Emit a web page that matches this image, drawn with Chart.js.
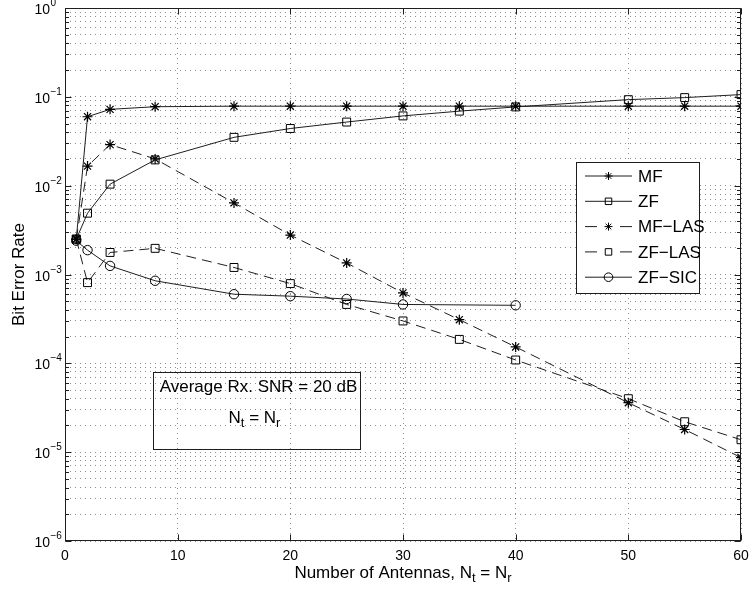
<!DOCTYPE html>
<html>
<head>
<meta charset="utf-8">
<script src="https://cdn.jsdelivr.net/npm/chart.js@4.4.0/dist/chart.umd.min.js"></script>
<style>
  html, body { margin: 0; padding: 0; background: #ffffff; }
  canvas { display: block; }
</style>
</head>
<body>
<canvas id="ber" width="750" height="592"></canvas>
<script>
// Number of antennas (Nt = Nr) at which BER was simulated
const antennas = [1, 2, 4, 8, 15, 20, 25, 30, 35, 40, 50, 55, 60];
const antennasSIC = [1, 2, 4, 8, 15, 20, 25, 30, 40];

// Bit error rate per detector, average Rx SNR = 20 dB
const berMF     = [2.5e-3, 0.0597, 0.0723, 0.0774, 0.0785, 0.0785, 0.0785, 0.0785, 0.0785, 0.0785, 0.0785, 0.0785, 0.0785];
const berZF     = [2.5e-3, 4.9e-3, 0.0104, 0.0195, 0.035, 0.044, 0.052, 0.061, 0.069, 0.077, 0.093, 0.098, 0.106];
const berMFLAS  = [2.5e-3, 0.0166, 0.029, 0.020, 6.4e-3, 2.78e-3, 1.35e-3, 6.2e-4, 3.1e-4, 1.53e-4, 3.6e-5, 1.8e-5, 8.7e-6];
const berZFLAS  = [2.5e-3, 8.1e-4, 1.77e-3, 1.97e-3, 1.2e-3, 7.9e-4, 4.6e-4, 3.0e-4, 1.86e-4, 1.09e-4, 4.0e-5, 2.2e-5, 1.38e-5];
const berZFSIC  = [2.4e-3, 1.88e-3, 1.25e-3, 8.5e-4, 6.0e-4, 5.7e-4, 5.3e-4, 4.6e-4, 4.5e-4];

// Axis ticks
const xTickValues = [0, 10, 20, 30, 40, 50, 60];
const xTickLabels = ['0', '10', '20', '30', '40', '50', '60'];
const yTickExponents = [0, -1, -2, -3, -4, -5, -6];

const FONT = '"Liberation Sans", Arial, Helvetica, sans-serif';
const INK = '#1e1e1e';
const DASH = [10, 6];

function points(xs, ys) {
  return xs.map((x, i) => ({ x: x, y: ys[i] }));
}

// Every decade plus its 2..9 minor positions, for the dotted log grid
function logGridValues() {
  const vals = [];
  const lo = Math.min(...yTickExponents), hi = Math.max(...yTickExponents);
  for (let e = lo; e <= hi; e++) {
    for (let m = 1; m <= 9; m++) {
      if (e === hi && m > 1) break;
      vals.push(m * Math.pow(10, e));
    }
  }
  return vals;
}

function series(label, xs, ys, style, radius, dashed) {
  return {
    label: label,
    data: points(xs, ys),
    borderColor: INK,
    borderWidth: 1,
    borderDash: dashed ? DASH : [],
    pointStyle: style,
    pointRadius: radius,
    pointHoverRadius: radius,
    pointBorderColor: '#000000',
    pointBorderWidth: style === 'star' ? 1.2 : 1,
    pointBackgroundColor: 'rgba(0,0,0,0)',
    fill: false,
    tension: 0
  };
}

// Draws a label with a subscript after each main part: parts = [[text, sub], ...]
function drawSubText(ctx, parts, cx, baseline, size, subSize, subDrop) {
  ctx.save();
  let total = 0;
  const widths = parts.map(p => {
    ctx.font = size + 'px ' + FONT;
    const w1 = ctx.measureText(p[0]).width;
    ctx.font = subSize + 'px ' + FONT;
    const w2 = p[1] ? ctx.measureText(p[1]).width : 0;
    total += w1 + w2;
    return [w1, w2];
  });
  let x = cx - total / 2;
  ctx.textAlign = 'left';
  ctx.textBaseline = 'alphabetic';
  parts.forEach((p, i) => {
    ctx.font = size + 'px ' + FONT;
    ctx.fillText(p[0], x, baseline);
    x += widths[i][0];
    if (p[1]) {
      ctx.font = subSize + 'px ' + FONT;
      ctx.fillText(p[1], x, baseline + subDrop);
      x += widths[i][1];
    }
  });
  ctx.restore();
}

const axesDecor = {
  id: 'axesDecor',
  afterDraw(chart) {
    const ctx = chart.ctx;
    const area = chart.chartArea;
    const xs = chart.scales.x, ys = chart.scales.y;
    const L = Math.round(area.left) + 0.5, R = Math.round(area.right) - 0.5;
    const T = Math.round(area.top) + 0.5, B = Math.round(area.bottom) - 0.5;

    ctx.save();
    ctx.strokeStyle = INK;
    ctx.lineWidth = 1;
    ctx.setLineDash([]);

    // inward tick marks on all four sides
    ctx.beginPath();
    xTickValues.forEach(v => {
      const px = Math.round(xs.getPixelForValue(v)) + 0.5;
      ctx.moveTo(px, B); ctx.lineTo(px, B - 6);
      ctx.moveTo(px, T); ctx.lineTo(px, T + 6);
    });
    logGridValues().forEach(v => {
      const py = Math.round(ys.getPixelForValue(v)) + 0.5;
      const major = Math.abs(Math.log10(v) - Math.round(Math.log10(v))) < 1e-9;
      const len = major ? 6 : 3.5;
      ctx.moveTo(L, py); ctx.lineTo(L + len, py);
      ctx.moveTo(R, py); ctx.lineTo(R - len, py);
    });
    ctx.stroke();

    // axes frame
    ctx.strokeRect(L, T, R - L, B - T);

    // x tick labels
    ctx.fillStyle = '#000000';
    ctx.font = '14px ' + FONT;
    ctx.textAlign = 'center';
    ctx.textBaseline = 'alphabetic';
    xTickValues.forEach((v, i) => {
      ctx.fillText(xTickLabels[i], xs.getPixelForValue(v), area.bottom + 19);
    });

    // y tick labels: 10 with superscript exponent
    yTickExponents.forEach(e => {
      const py = ys.getPixelForValue(Math.pow(10, e));
      ctx.font = '14px ' + FONT;
      ctx.textAlign = 'right';
      ctx.fillText('10', 50, py + 6);
      ctx.font = '10px ' + FONT;
      ctx.textAlign = 'left';
      ctx.fillText(e === 0 ? '0' : '\u2212' + Math.abs(e), 50.5, py - 2);
    });

    // axis titles
    drawSubText(ctx, [['Number of Antennas, N', 't'], [' = N', 'r']],
      (area.left + area.right) / 2, area.bottom + 37, 17, 13, 4);

    ctx.save();
    ctx.translate(24, (area.top + area.bottom) / 2);
    ctx.rotate(-Math.PI / 2);
    ctx.font = '17px ' + FONT;
    ctx.textAlign = 'center';
    ctx.textBaseline = 'alphabetic';
    ctx.fillText('Bit Error Rate', 0, 0);
    ctx.restore();

    // text box with simulation conditions
    const bx1 = 153, bx2 = 360, by1 = 372, by2 = 449;
    ctx.strokeStyle = INK;
    ctx.strokeRect(bx1 + 0.5, by1 + 0.5, bx2 - bx1, by2 - by1);
    ctx.font = '17px ' + FONT;
    ctx.textAlign = 'center';
    ctx.fillText('Average Rx. SNR = 20 dB', (bx1 + bx2) / 2 + 2, by1 + 20);
    drawSubText(ctx, [['N', 't'], [' = N', 'r']], (bx1 + bx2) / 2 - 2, by1 + 51, 17, 13, 4);

    // legend box
    const lx = 576, ly = 162, lw = 123, lh = 131;
    ctx.fillStyle = '#ffffff';
    ctx.fillRect(lx, ly, lw, lh);
    ctx.strokeStyle = INK;
    ctx.strokeRect(lx + 0.5, ly + 0.5, lw, lh);
    chart.data.datasets.forEach((ds, i) => {
      const yy = 176 + i * 25.3;
      ctx.strokeStyle = INK;
      ctx.lineWidth = 1;
      ctx.beginPath();
      if (ds.borderDash && ds.borderDash.length) {
        ctx.moveTo(585, yy); ctx.lineTo(597, yy);
        ctx.moveTo(620, yy); ctx.lineTo(632, yy);
      } else {
        ctx.moveTo(585, yy); ctx.lineTo(632, yy);
      }
      ctx.stroke();
      ctx.fillStyle = 'rgba(0,0,0,0)';
      ctx.strokeStyle = '#000000';
      Chart.helpers.drawPoint(ctx, {
        pointStyle: ds.pointStyle,
        radius: ds.pointStyle === 'circle' ? 4.3 : (ds.pointStyle === 'rect' ? 4.6 : 4),
        rotation: 0,
        borderWidth: 1
      }, 608.5, yy);
      ctx.fillStyle = '#000000';
      ctx.font = '17px ' + FONT;
      ctx.textAlign = 'left';
      ctx.textBaseline = 'middle';
      ctx.fillText(ds.label, 638, yy + 1);
    });
    ctx.restore();
  }
};

new Chart(document.getElementById('ber'), {
  type: 'line',
  data: {
    datasets: [
      series('MF', antennas, berMF, 'star', 5, false),
      series('ZF', antennas, berZF, 'rect', 5.6, false),
      series('MF\u2212LAS', antennas, berMFLAS, 'star', 5, true),
      series('ZF\u2212LAS', antennas, berZFLAS, 'rect', 5.6, true),
      series('ZF\u2212SIC', antennasSIC, berZFSIC, 'circle', 4.7, false)
    ]
  },
  options: {
    responsive: false,
    animation: false,
    events: [],
    layout: { padding: { top: 8, right: 9, left: 0, bottom: 0 } },
    plugins: {
      legend: { display: false },
      tooltip: { enabled: false }
    },
    scales: {
      x: {
        type: 'linear',
        min: 0,
        max: 60,
        afterBuildTicks: s => { s.ticks = xTickValues.map(v => ({ value: v })); },
        afterFit: s => { s.height = 51; },
        ticks: { display: false },
        grid: { color: 'rgba(0,0,0,0.45)', lineWidth: 1, drawTicks: false },
        border: { display: false, dash: [1, 4] }
      },
      y: {
        type: 'logarithmic',
        min: 1e-6,
        max: 1,
        afterBuildTicks: s => { s.ticks = logGridValues().map(v => ({ value: v })); },
        afterFit: s => { s.width = 65; },
        ticks: { display: false },
        grid: { color: 'rgba(0,0,0,0.45)', lineWidth: 1, drawTicks: false },
        border: { display: false, dash: [1, 4] }
      }
    }
  },
  plugins: [axesDecor]
});
</script>
</body>
</html>
